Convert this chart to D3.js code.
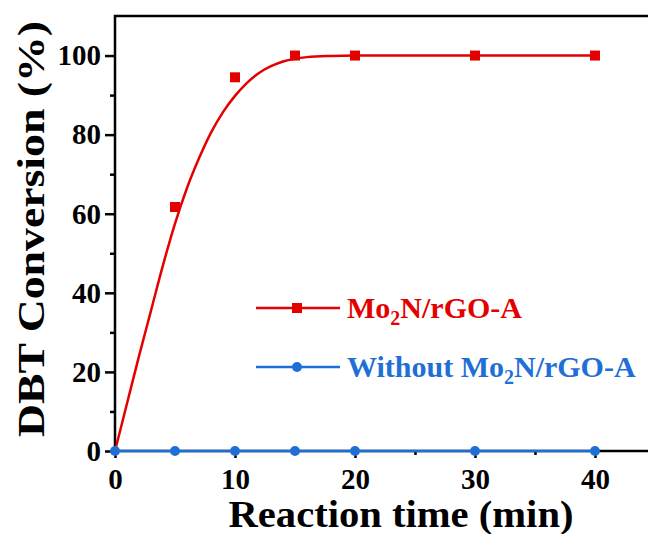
<!DOCTYPE html>
<html>
<head>
<meta charset="utf-8">
<script src="https://cdn.jsdelivr.net/npm/d3@7"></script>
<style>
  html, body { margin: 0; padding: 0; background: #fff; }
  svg text { font-family: "Liberation Serif", "Times New Roman", serif; font-weight: bold; }
</style>
</head>
<body>
<svg id="drawing_region"></svg>
<script>
// measured points
const sampleTimes = [5, 10, 15, 20, 30, 40];
const mo2nConversion = [61.7, 94.5, 100, 100, 100, 100];

const blankTimes = [0, 5, 10, 15, 20, 30, 40];
const blankConversion = [0, 0, 0, 0, 0, 0, 0];

// fitted curve
const fitTimes = [0, 1, 2, 3, 4, 5, 6, 7, 8, 9, 10, 11, 12, 13, 14, 15, 16, 18, 20, 30, 40];
const fitConversion = [0, 12, 24, 35.5, 47, 57.5, 66.5, 74, 80.5, 85.7, 89.8, 93.1, 95.6, 97.3, 98.5, 99.2, 99.6, 99.9, 100, 100, 100];

const xMajorTicks = [0, 10, 20, 30, 40];
const xMinorTicks = [5, 15, 25, 35];
const yMajorTicks = [0, 20, 40, 60, 80, 100];
const yMinorTicks = [10, 30, 50, 70, 90];

const legendLabels = ["Mo2N/rGO-A", "Without Mo2N/rGO-A"];

const RED = "#e50000";
const BLUE = "#1f6fd6";

const config = {
    width: 648,
    height: 534,
    margin: {top: 16, right: -7, bottom: 83, left: 115}
};

const svg = d3.select('#drawing_region')
    .attr('width', config.width)
    .attr('height', config.height);

const inner_width = config.width - config.margin.left - config.margin.right;
const inner_height = config.height - config.margin.top - config.margin.bottom;

const chart = svg.append('g')
    .attr('transform', `translate(${config.margin.left}, ${config.margin.top})`);

const xscale = d3.scaleLinear()
    .domain([0, 45])
    .range([0, inner_width]);

const yscale = d3.scaleLinear()
    .domain([0, 110])
    .range([inner_height, 0]);

// axes
const xaxis_major = d3.axisBottom(xscale).tickValues(xMajorTicks).tickSize(7).tickPadding(10).tickSizeOuter(0);
const xaxis_minor = d3.axisBottom(xscale).tickValues(xMinorTicks).tickSize(4).tickFormat('').tickSizeOuter(0);
const yaxis_major = d3.axisLeft(yscale).tickValues(yMajorTicks).tickSize(10).tickPadding(4).tickSizeOuter(0);
const yaxis_minor = d3.axisLeft(yscale).tickValues(yMinorTicks).tickSize(5).tickFormat('').tickSizeOuter(0);

function styleAxis(g) {
    g.select('.domain').remove();
    g.selectAll('line').attr('stroke', '#000').attr('stroke-width', 2.5);
    g.selectAll('text')
        .attr('fill', '#000')
        .style('font-size', '29px')
        .style('font-family', '"Liberation Serif", "Times New Roman", serif')
        .style('font-weight', 'bold');
}

chart.append('g').attr('transform', `translate(0, ${inner_height})`).call(xaxis_major).call(styleAxis);
chart.append('g').attr('transform', `translate(0, ${inner_height})`).call(xaxis_minor).call(styleAxis);
chart.append('g').call(yaxis_major).call(styleAxis);
chart.append('g').call(yaxis_minor).call(styleAxis);

// frame
chart.append('rect')
    .attr('x', 0).attr('y', 0)
    .attr('width', inner_width).attr('height', inner_height)
    .attr('fill', 'none')
    .attr('stroke', '#000')
    .attr('stroke-width', 2.5);

// fitted red curve
const line = d3.line()
    .x((d, i) => xscale(fitTimes[i]))
    .y(d => yscale(d))
    .curve(d3.curveMonotoneX);

chart.append('path')
    .attr('d', line(fitConversion))
    .attr('fill', 'none')
    .attr('stroke', RED)
    .attr('stroke-width', 2.5);

// blank series
const blankLine = d3.line()
    .x((d, i) => xscale(blankTimes[i]))
    .y(d => yscale(d));

chart.append('path')
    .attr('d', blankLine(blankConversion))
    .attr('fill', 'none')
    .attr('stroke', BLUE)
    .attr('stroke-width', 2.5);

chart.selectAll('.blank-dot')
    .data(blankConversion)
    .join('circle')
    .attr('cx', (d, i) => xscale(blankTimes[i]))
    .attr('cy', d => yscale(d))
    .attr('r', 5)
    .attr('fill', BLUE);

chart.selectAll('.mo2n-pt')
    .data(mo2nConversion)
    .join('rect')
    .attr('x', (d, i) => xscale(sampleTimes[i]) - 5)
    .attr('y', d => yscale(d) - 5)
    .attr('width', 10)
    .attr('height', 10)
    .attr('fill', RED);

// legend
const legend = svg.append('g').attr('transform', 'translate(256, 308)');
const legendColors = [RED, BLUE];
legendLabels.forEach((label, i) => {
    const g = legend.append('g').attr('transform', `translate(0, ${i * 59})`);
    g.append('line').attr('x1', 0).attr('x2', 84).attr('y1', 0).attr('y2', 0)
        .attr('stroke', legendColors[i]).attr('stroke-width', 2.5);
    if (i === 0) {
        g.append('rect').attr('x', 36).attr('y', -5).attr('width', 10).attr('height', 10).attr('fill', RED);
    } else {
        g.append('circle').attr('cx', 41).attr('cy', 0).attr('r', 5).attr('fill', BLUE);
    }
    const parts = label.split('2');
    const t = g.append('text')
        .attr('x', 91).attr('y', 10)
        .attr('fill', legendColors[i])
        .style('font-size', '30px');
    t.append('tspan').text(parts[0]);
    t.append('tspan').attr('dy', 7).style('font-size', '20px').text('2');
    t.append('tspan').attr('dy', -7).text(parts[1]);
});

// axis titles
svg.append('text')
    .attr('x', 401).attr('y', 527)
    .attr('text-anchor', 'middle')
    .attr('textLength', 345)
    .attr('lengthAdjust', 'spacingAndGlyphs')
    .style('font-size', '37px')
    .text('Reaction time (min)');

svg.append('text')
    .attr('transform', 'translate(44, 229) rotate(-90)')
    .attr('text-anchor', 'middle')
    .attr('textLength', 416)
    .attr('lengthAdjust', 'spacingAndGlyphs')
    .style('font-size', '37px')
    .text('DBT Conversion (%)');
</script>
</body>
</html>
